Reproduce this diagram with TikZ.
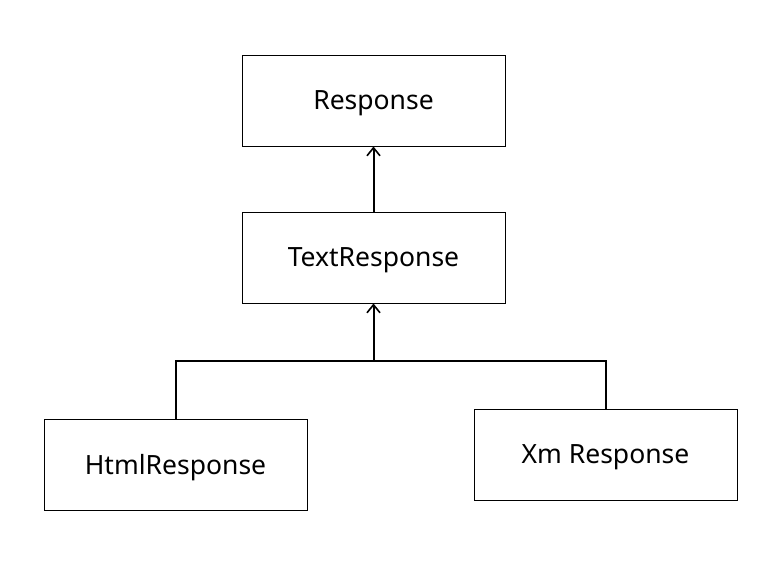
\documentclass[tikz,border=0pt]{standalone}
\usepackage{fontspec}
\setmainfont{Noto Sans}
\usepackage{tikz}
\usetikzlibrary{arrows.meta,positioning}

\begin{document}
\begin{tikzpicture}[x=1pt,y=1pt,node distance=65pt,
  font=\fontsize{26.5}{30}\selectfont,
  box/.style={draw,line width=1pt,minimum width=263pt,minimum height=91pt,inner sep=0pt,text depth=0pt},
  link/.style={line width=2pt},
  >={Straight Barb[length=8pt,width=13pt,line width=1.6pt]}]
  \useasboundingbox (0,0) rectangle (769,-570);
  \node[box] (resp) at (373.5,-100.5) {Response};
  \node[box,below=of resp] (text) {TextResponse};
  \node[box,below left=115pt and -66pt of text] (html) {HtmlResponse};
  \node[box,below right=105pt and -32pt of text] (xml) {Xm Response};
  \coordinate[below=57pt of text.south] (j);
  \draw[link,->] (text) -- (resp);
  \draw[link,->] (j) -- (text);
  \draw[link] (html.north) |- (j) -| (xml.north);
\end{tikzpicture}
\end{document}
